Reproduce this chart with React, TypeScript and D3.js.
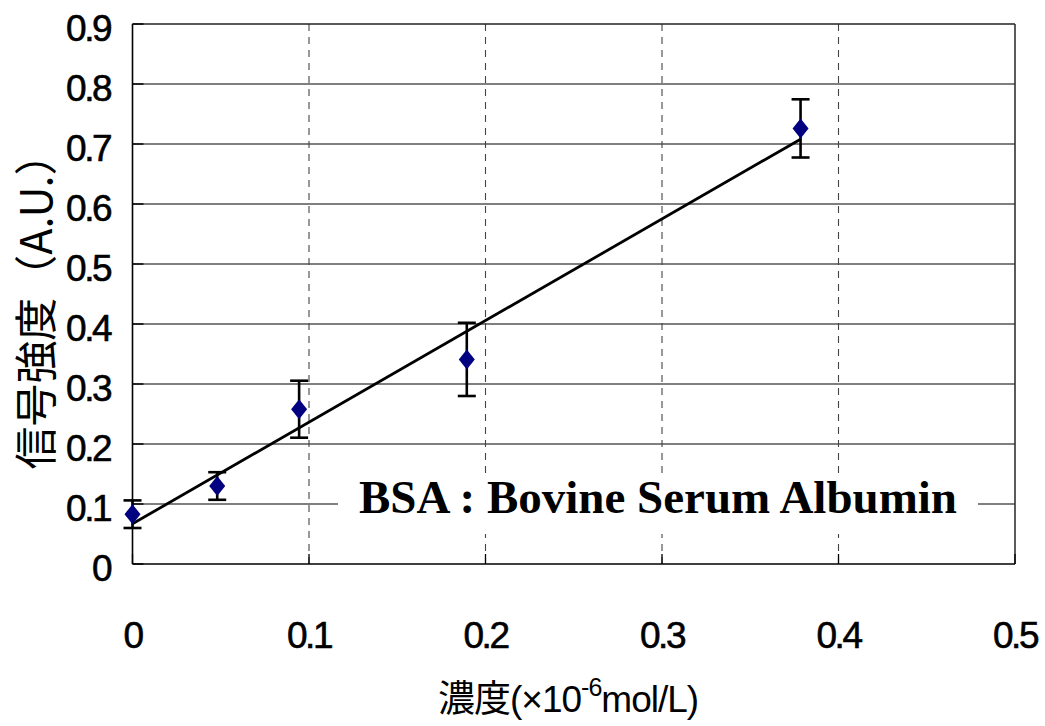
import React from "react";
import * as d3 from "d3";

// Concentration (×10^-6 mol/L) and measured signal (A.U.) with error half-widths
const concentrations = [0, 0.048, 0.0944, 0.1894, 0.3785];
const signals = [0.083, 0.13, 0.258, 0.341, 0.726];
const errors = [0.023, 0.023, 0.0475, 0.061, 0.0485];

const xTicks = [0, 0.1, 0.2, 0.3, 0.4, 0.5];
const xTickLabels = ["0", "0.1", "0.2", "0.3", "0.4", "0.5"];
const yTicks = [0, 0.1, 0.2, 0.3, 0.4, 0.5, 0.6, 0.7, 0.8, 0.9];
const yTickLabels = ["0", "0.1", "0.2", "0.3", "0.4", "0.5", "0.6", "0.7", "0.8", "0.9"];

const legendText = "BSA : Bovine Serum Albumin";
const yTitle = "信号強度（A.U.）";

const W = 1045;
const H = 726;
const plot = { left: 132.5, right: 1015, top: 24, bottom: 564 };

const numFont = "'Liberation Sans', Arial, sans-serif";
const cjkFont = "'Noto Sans CJK JP', 'Liberation Sans', sans-serif";

export default function App() {
  const x = d3.scaleLinear().domain([0, 0.5]).range([plot.left, plot.right]);
  const y = d3.scaleLinear().domain([0, 0.9]).range([plot.bottom, plot.top]);

  // Least-squares fit through the measured points
  const mx = d3.mean(concentrations)!;
  const my = d3.mean(signals)!;
  let sxy = 0;
  let sxx = 0;
  concentrations.forEach((c, i) => {
    sxy += (c - mx) * (signals[i] - my);
    sxx += (c - mx) * (c - mx);
  });
  const slope = sxy / sxx;
  const intercept = my - slope * mx;
  const fitX = [0, d3.max(concentrations)!];
  const fitLine = d3
    .line<number>()
    .x((d) => x(d))
    .y((d) => y(intercept + slope * d))(fitX);

  const diamond = (cx: number, cy: number) =>
    `M${cx},${cy - 10}L${cx + 8},${cy}L${cx},${cy + 10}L${cx - 8},${cy}Z`;

  const legendY = y(0.1);

  return (
    <svg
      width={W}
      height={H}
      style={{ position: "absolute", left: 0, top: 0, background: "#fff" }}
    >
      <rect x={0} y={0} width={W} height={H} fill="#fff" />

      {/* horizontal gridlines */}
      {yTicks
        .filter((t) => t > 0 && t < 0.9)
        .map((t) => (
          <line
            key={"h" + t}
            x1={plot.left}
            x2={plot.right}
            y1={y(t)}
            y2={y(t)}
            stroke="#555"
            strokeWidth={1.4}
          />
        ))}

      {/* vertical dashed gridlines */}
      {xTicks
        .filter((t) => t > 0 && t < 0.5)
        .map((t) => (
          <line
            key={"v" + t}
            x1={x(t)}
            x2={x(t)}
            y1={plot.top}
            y2={plot.bottom}
            stroke="#444"
            strokeWidth={1.1}
            strokeDasharray="7,6"
          />
        ))}

      {/* legend label box */}
      <rect x={338} y={legendY - 30} width={640} height={60} fill="#fff" />
      <text
        x={359}
        y={513}
        fontFamily="'Liberation Serif', 'Times New Roman', serif"
        fontWeight="bold"
        fontSize={46}
        textLength={598}
        lengthAdjust="spacingAndGlyphs"
        fill="#000"
      >
        {legendText}
      </text>

      {/* frame */}
      <line x1={plot.left} x2={plot.right} y1={plot.top} y2={plot.top} stroke="#222" strokeWidth={1.6} />
      <line x1={plot.right} x2={plot.right} y1={plot.top} y2={plot.bottom} stroke="#333" strokeWidth={1.6} />
      <line x1={plot.left} x2={plot.left} y1={plot.top} y2={plot.bottom} stroke="#000" strokeWidth={1.6} />
      <line x1={plot.left} x2={plot.right} y1={plot.bottom} y2={plot.bottom} stroke="#000" strokeWidth={1.6} />

      {/* inner ticks */}
      {yTicks.map((t) => (
        <line key={"yt" + t} x1={plot.left} x2={plot.left + 11} y1={y(t)} y2={y(t)} stroke="#000" strokeWidth={1.4} />
      ))}
      {xTicks.map((t) => (
        <line key={"xt" + t} x1={x(t)} x2={x(t)} y1={plot.bottom} y2={plot.bottom - 10} stroke="#000" strokeWidth={1.3} />
      ))}

      {/* tick labels */}
      {yTicks.map((t, i) => (
        <text
          key={"yl" + t}
          x={110}
          y={y(t) + 17}
          textAnchor="end"
          fontFamily={numFont}
          fontSize={37}
          letterSpacing={-2.5}
          stroke="#000"
          strokeWidth={0.6}
          fill="#000"
        >
          {yTickLabels[i]}
        </text>
      ))}
      {xTicks.map((t, i) => (
        <text
          key={"xl" + t}
          x={x(t)}
          y={648}
          textAnchor="middle"
          fontFamily={numFont}
          fontSize={37}
          letterSpacing={-2.5}
          stroke="#000"
          strokeWidth={0.6}
          fill="#000"
        >
          {xTickLabels[i]}
        </text>
      ))}

      {/* error bars */}
      {concentrations.map((c, i) => {
        const cx = x(c);
        const top = y(signals[i] + errors[i]);
        const bot = y(signals[i] - errors[i]);
        return (
          <g key={"e" + i} stroke="#000" strokeWidth={2.6}>
            <line x1={cx} x2={cx} y1={top} y2={bot} />
            <line x1={cx - 9} x2={cx + 9} y1={top} y2={top} />
            <line x1={cx - 9} x2={cx + 9} y1={bot} y2={bot} />
          </g>
        );
      })}

      {/* fitted line */}
      <path d={fitLine!} fill="none" stroke="#000" strokeWidth={2.8} />

      {/* markers */}
      {concentrations.map((c, i) => (
        <path key={"m" + i} d={diamond(x(c), y(signals[i]))} fill="#000080" />
      ))}

      {/* axis titles */}
      <text x={438} y={712} fontFamily={numFont} fontSize={37} fill="#000" letterSpacing={-1}>
        <tspan fontFamily={cjkFont} fontSize={37}>濃度</tspan>
        <tspan>(×10</tspan>
        <tspan fontSize={25} dy={-16}>-6</tspan>
        <tspan dy={16}>mol/L)</tspan>
      </text>
      <text
        transform="translate(52,301) rotate(-90)"
        textAnchor="middle"
        fontFamily={cjkFont}
        fontSize={43}
        textLength={337}
        lengthAdjust="spacingAndGlyphs"
        fill="#000"
      >
        {yTitle}
      </text>
    </svg>
  );
}
